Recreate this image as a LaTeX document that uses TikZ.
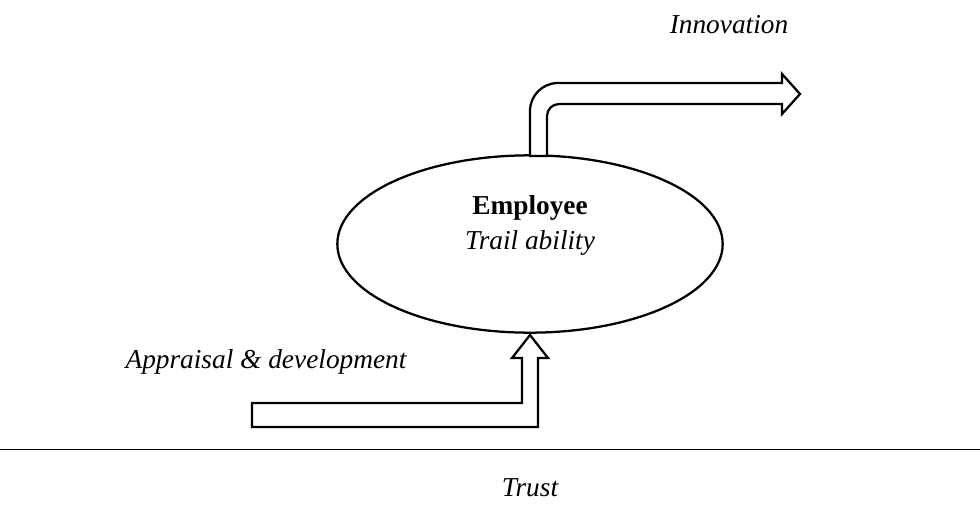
\documentclass[tikz,border=0pt]{standalone}
\usepackage{fontspec}
\setmainfont{Liberation Serif}
\usetikzlibrary{shapes.geometric}

\tikzset{
  blockarrow/.style={draw=black, line width=1.7pt, fill=white, line join=miter},
  lbl/.style={font=\fontsize{20.5}{24}\selectfont\itshape, inner sep=0pt},
  head/.style={font=\fontsize{20.5}{24}\selectfont\bfseries, inner sep=0pt}
}

\begin{document}
\begin{tikzpicture}[x=0.75pt, y=-0.75pt]
  % Fix the page size
  \useasboundingbox (0,0) rectangle (980,525);

  % Draw the employee ellipse
  \node[ellipse, draw, line width=1.7pt, minimum width=289pt, minimum height=133pt] (emp) at (530,244) {};
  \node[head] (empname) at (530,208) {Employee};
  \node[lbl] (empsub) at (530,243) {Trail ability};

  % Bent arrow going out to innovation
  \draw[blockarrow] (530,156) -- (530,111) .. controls (530,95.5) and (542.5,83) .. (558,83)
    -- (782,83) -- (782,74) -- (800,94) -- (782,114) -- (782,104)
    -- (559,104) .. controls (552.4,104) and (547,109.4) .. (547,116) -- (547,156) -- cycle;

  % Bent arrow coming in from appraisal
  \draw[blockarrow] (252,403) -- (522,403) -- (522,358) -- (512,358) -- (530,335)
    -- (548,358) -- (538,358) -- (538,427) -- (252,427) -- cycle;

  % Separator line
  \coordinate (sepl) at (0,449);
  \coordinate (sepr) at (980,449);
  \draw[line width=0.6pt] (sepl) -- (sepr);

  % Labels
  \node[lbl] (innov) at (729,25) {Innovation};
  \node[lbl] (apprais) at (266,362) {Appraisal \& development};
  \node[lbl] (trust) at (530,488) {Trust};
\end{tikzpicture}
\end{document}
